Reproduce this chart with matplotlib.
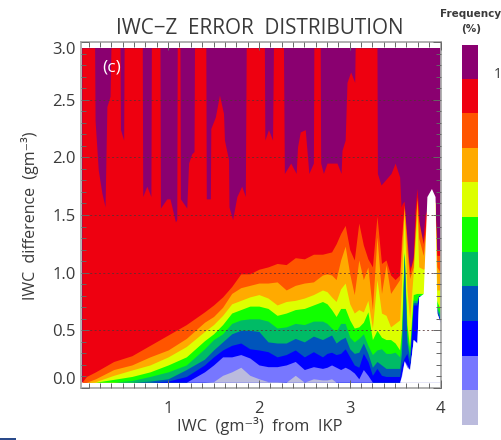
import matplotlib
matplotlib.use("Agg")
import matplotlib.pyplot as plt
from matplotlib.colors import ListedColormap
from matplotlib.patches import Rectangle
from matplotlib.ticker import MultipleLocator
import numpy as np

plt.rcParams['font.family'] = ['Open Sans', 'DejaVu Sans']

TITLE = "IWC\u2212Z  ERROR  DISTRIBUTION"
XLABEL = "IWC  (gm\u207b\u00b3)  from  IKP"
YLABEL = "IWC  difference  (gm\u207b\u00b3)"
XTICKS = [1, 2, 3, 4]
YTICKS = [0.0, 0.5, 1.0, 1.5, 2.0, 2.5, 3.0]

# colours from the top of the colour bar to the bottom
COLORS = ["#8a0070", "#ee0010", "#ff5500", "#ffaa00", "#ddff00", "#11ff00",
          "#00bb66", "#0055bb", "#0000ff", "#7777ff", "#bbbbdd"]

# upper edge of the red band (frequency field seen from above)
RED_X = [0.05,0.19,0.195,0.23,0.27,0.305,0.325,0.36,0.37,0.47,0.475,0.51,0.515,0.715,0.72,0.765,0.81,0.815,0.91,0.915,
         0.985,1.02,1.08,1.095,1.10,1.13,1.135,1.205,1.225,1.26,1.285,1.29,1.415,1.42,1.465,1.47,1.52,1.565,1.61,1.62,
         1.665,1.67,1.71,1.757,1.81,1.85,1.86,2.06,2.065,2.105,2.15,2.16,2.27,2.28,2.35,2.41,2.425,2.455,2.51,2.55,
         2.60,2.605,2.675,2.68,2.71,2.75,2.86,2.905,2.915,2.95,2.97,3.01,3.055,3.06,3.30,3.305,3.345,3.455,3.50,3.55,
         3.565,3.58,3.60,3.62,3.64,3.67,3.70,3.72,3.74,3.76,3.78,3.80,3.83,3.855,3.96,4.0]
RED_TOP = [2.95,2.95,2.32,1.89,1.69,1.57,2.44,2.53,2.95,2.95,2.24,2.15,2.95,2.95,1.66,1.75,1.66,2.95,2.95,1.56,
           1.64,1.64,1.44,1.46,2.95,2.95,1.64,1.56,1.95,2.03,2.05,2.95,2.95,1.64,1.64,2.25,2.35,2.54,2.38,2.15,
           1.98,1.57,1.46,1.66,1.75,1.66,2.95,2.95,2.15,2.24,2.15,2.95,2.95,1.86,1.95,1.86,2.09,2.22,2.24,1.86,
           1.95,2.95,2.95,1.95,1.86,1.95,1.95,1.86,2.06,2.15,2.65,2.74,2.65,2.95,2.95,1.86,1.76,1.86,1.95,1.83,
           1.57,1.60,1.62,1.35,1.11,1.04,1.14,1.55,1.73,1.55,1.25,1.25,1.50,1.55,1.20,1.20]

# common x positions of the lower bands
X = [0.05,0.1,0.2,0.4,0.6,0.8,1.0,1.2,1.4,
     1.5,1.6,1.7,1.8,1.9,2.0,2.1,2.2,2.3,2.4,2.5,2.6,
     2.7,2.75,2.8,2.85,2.9,2.95,3.0,3.05,3.1,3.15,3.2,3.25,3.3,3.35,3.4,3.45,3.5,
     3.55,3.57,3.60,3.63,3.66,3.70,3.74,3.76,3.81,3.85,3.90,3.94,3.96,4.0]

ORANGERED_TOP = [.05,.10,.14,.23,.28,.37,.46,.55,.66,
                 .72,.79,.88,.99,.99,1.03,1.05,1.08,1.07,1.13,1.12,1.16,
                 1.16,1.17,1.18,1.25,1.34,1.41,1.20,1.11,1.43,1.24,1.12,1.05,1.49,1.08,1.11,.98,.94,
                 .98,1.3,1.59,1.3,1.0,1.12,1.66,1.45,1.25,1.5,1.7,1.6,1.15,1.15]
ORANGE_TOP = [.05,.05,.08,.16,.20,.27,.33,.43,.57,
              .62,.70,.82,.87,.89,.91,.91,.92,.85,.89,.91,.92,
              .98,.99,.98,.94,1.11,1.23,.99,.81,1.11,.94,1.05,.68,1.31,.82,1.07,.82,.88,
              .94,1.2,1.56,1.2,.95,1.05,1.63,1.3,1.15,1.45,1.7,1.6,1.05,1.0]
YELLOW_TOP = [.05,.05,.055,.11,.156,.20,.27,.36,.49,
              .55,.63,.73,.76,.79,.81,.78,.72,.75,.76,.78,.81,
              .85,.835,.79,.75,.86,.91,.73,.65,.68,.66,.76,.52,.94,.65,.63,.53,.56,
              .59,.9,1.51,.85,.6,1.0,1.51,1.05,1.03,1.05,1.7,1.6,.85,.85]
GREEN_TOP = [.05,.05,.05,.075,.10,.14,.20,.27,.41,
             .47,.55,.65,.68,.71,.71,.69,.63,.65,.68,.69,.72,
             .75,.73,.68,.62,.69,.69,.59,.52,.53,.57,.66,.42,.50,.44,.42,.42,.39,
             .33,.5,1.18,.55,.35,.81,.82,.82,.82,.82,.82,.82,.75,.68]
SEAGREEN_TOP = [.05,.05,.05,.05,.065,.10,.14,.20,.34,
                .42,.47,.56,.59,.60,.60,.58,.52,.53,.56,.55,.58,
                .58,.56,.52,.49,.56,.56,.44,.40,.43,.47,.37,.29,.33,.34,.30,.30,.31,
                .27,.4,1.17,.45,.3,.76,.76,.8,.8,.8,.8,.8,.7,.64]
STEEL_TOP = [.05,.05,.05,.05,.05,.06,.08,.16,.25,
             .33,.40,.47,.50,.50,.49,.40,.39,.39,.43,.40,.45,
             .42,.44,.46,.39,.42,.44,.34,.30,.31,.39,.30,.18,.23,.20,.17,.17,.17,
             .17,.3,1.16,.4,.25,.74,.74,.8,.8,.8,.8,.8,.68,.6]
BLUE_TOP = [.05,.05,.05,.05,.05,.05,.06,.10,.20,
            .27,.33,.37,.39,.34,.33,.315,.27,.29,.33,.27,.315,
            .27,.30,.31,.29,.30,.34,.27,.20,.18,.30,.23,.11,.17,.11,.10,.10,.10,
            .10,.2,.26,.3,.2,.72,.72,.8,.8,.8,.8,.8,.66,.58]
PERIWINKLE_TOP = [.05,.05,.05,.05,.05,.05,.05,.05,.14,
                  .20,.27,.27,.29,.26,.20,.185,.185,.20,.23,.16,.185,
                  .17,.18,.20,.18,.16,.18,.16,.13,.08,.16,.11,.05,.05,.05,.05,.05,.05,
                  .05,.12,.24,.2,.16,.42,.39,.79,.8,.8,.8,.8,.65,.56]
LAVENDER_TOP = [.05,.05,.05,.05,.05,.05,.05,.05,.05,
                .055,.11,.14,.18,.11,.08,.055,.055,.05,.11,.05,.08,
                .07,.07,.08,.05,.05,.05,.05,.05,.05,.05,.05,.05,.05,.05,.05,.05,.05,
                .05,.05,.23,.18,.16,.42,.39,.79,.8,.8,.8,.8,.65,.56]
WHITE_TOP = [.05,.05,.05,.05,.05,.05,.05,.05,.05,
             .05,.05,.05,.05,.05,.05,.05,.05,.05,.05,.05,.05,
             .05,.05,.05,.05,.05,.05,.05,.05,.05,.05,.05,.05,.05,.05,.05,.05,.05,
             .05,.10,.23,.18,.16,.42,.39,.79,.82,1.66,1.73,1.66,.65,.56]
BASE = 0.05
TOP = 2.95

W, H = 501, 440
fig = plt.figure(figsize=(W / 100, H / 100), dpi=100)
ax = fig.add_axes([81 / W, 1 - 388 / H, (440.5 - 81) / W, (388 - 42) / H])
ax.set_xlim(0.04, 4.0)
ax.set_ylim(0, 3.0)

ax.fill_between([X[0], X[-1]], BASE, TOP, color=COLORS[0], lw=0, zorder=0.1)
ax.fill_between(RED_X, BASE, RED_TOP, color=COLORS[1], lw=0, zorder=0.15)
bands = [ORANGERED_TOP, ORANGE_TOP, YELLOW_TOP, GREEN_TOP, SEAGREEN_TOP,
         STEEL_TOP, BLUE_TOP, PERIWINKLE_TOP, LAVENDER_TOP]
for i, top in enumerate(bands):
    ax.fill_between(X, BASE, top, color=COLORS[i + 2], lw=0, zorder=0.2 + i * 0.05)
ax.fill_between(X, BASE, WHITE_TOP, color="white", lw=0, zorder=0.8)

for v in YTICKS[1:-1]:
    ax.axhline(v, color="#553333", lw=0.7, ls=(0, (2, 2.5)), zorder=0.9, alpha=0.8)

TXT = "#3a3a3a"
ax.set_axisbelow(False)
ax.set_xticks(XTICKS)
ax.set_yticks(YTICKS)
ax.set_yticklabels([f"{v:.1f}" for v in YTICKS])
ax.xaxis.set_minor_locator(MultipleLocator(0.125))
ax.yaxis.set_minor_locator(MultipleLocator(0.1))
ax.tick_params(which="major", direction="in", top=True, right=True, length=6, width=0.7,
               color="#666666", labelsize=12, labelcolor=TXT, pad=4)
ax.tick_params(axis="x", which="major", pad=9)
ax.tick_params(which="minor", direction="in", top=True, right=True, length=3.5, width=0.7, color="#666666")
labs = ax.get_yticklabels()
labs[0].set_va("bottom")
labs[-1].set_va("top")
for s in ax.spines.values():
    s.set_color("#aaaaaa")
    s.set_linewidth(1.3)

fig.text(260 / W, 1 - 28 / H, TITLE, ha="center", va="center", fontsize=14.9, color=TXT)
fig.text(260 / W, 1 - 426 / H, XLABEL, ha="center", va="center", fontsize=11.8, color=TXT)
fig.text(30 / W, 1 - 216 / H, YLABEL, ha="center", va="center", rotation=90, fontsize=11.5, color=TXT)
fig.text(112 / W, 1 - 68 / H, "(c)", ha="center", va="center", fontsize=12.5, color="white", zorder=20)

cax = fig.add_axes([462 / W, 1 - 425 / H, 16 / W, 380 / H])
cax.imshow(np.arange(len(COLORS))[:, None], cmap=ListedColormap(COLORS), aspect="auto",
           interpolation="nearest")
cax.set_axis_off()

fig.text(471 / W, 1 - 14 / H, "Frequency", ha="center", va="center", fontsize=7.5,
         fontweight="bold", color=TXT, family=['DejaVu Sans'])
fig.text(471 / W, 1 - 29 / H, "(%)", ha="center", va="center", fontsize=7.5,
         fontweight="bold", color=TXT, family=['DejaVu Sans'])
fig.text(498 / W, 1 - 74 / H, "1", ha="center", va="center", fontsize=10, color=TXT)
fig.add_artist(Rectangle((0, 0), 16 / W, 2.5 / H, transform=fig.transFigure, color="#2a4a8a", lw=0))

fig.savefig("out.png", dpi=100)
